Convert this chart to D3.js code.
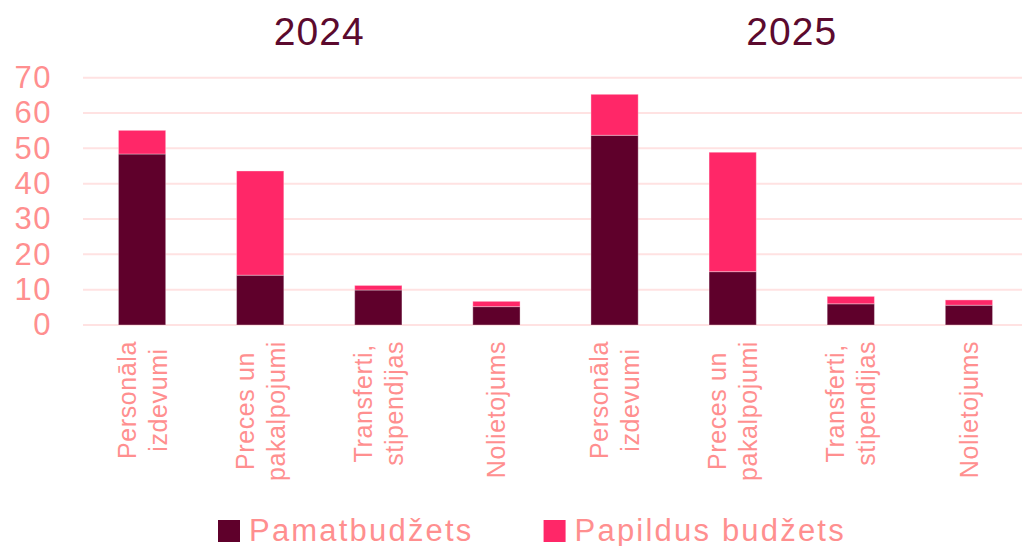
<!DOCTYPE html>
<html>
<head>
<meta charset="utf-8">
<script src="https://cdn.jsdelivr.net/npm/d3@7"></script>
<style>
  body { margin: 0; background: #fff; }
  svg { display: block; }
  text { font-family: "Liberation Sans", Arial, sans-serif; }
</style>
</head>
<body>
<svg id="chart" width="1022" height="546"></svg>
<script>
// data
var years = ["2024", "2025"];
var categories = [
  ["Personāla", "izdevumi"],
  ["Preces un", "pakalpojumi"],
  ["Transferti,", "stipendijas"],
  ["Nolietojums"]
];
var seriesNames = ["Pamatbudžets", "Papildus budžets"];
var pamat = [48.4, 14.1, 9.9, 5.2, 53.7, 15.1, 6.0, 5.6];
var papildus = [6.7, 29.5, 1.3, 1.5, 11.6, 33.8, 2.1, 1.5];
var yTicks = [0, 10, 20, 30, 40, 50, 60, 70];

var colors = ["#5f002b", "#ff2768"];
var textColor = "#ff8f8f";
var titleColor = "#5c0a2e";

var svg = d3.select("#chart");

// one key per bar : year + category index
var keys = [];
years.forEach(function(y){
  categories.forEach(function(c, i){ keys.push(y + "-" + i); });
});

var rows = keys.map(function(k, i){
  return { key: k, pamat: pamat[i], papildus: papildus[i] };
});

var x = d3.scaleBand().domain(keys).range([83, 1028]).paddingInner(0.6).paddingOuter(0.3);
var y = d3.scaleLinear().domain([0, 70]).range([325, 77.7]);

// grid lines
svg.append("g").selectAll("line")
  .data(yTicks)
  .join("line")
  .attr("x1", 83).attr("x2", 1022)
  .attr("y1", function(d){ return y(d); })
  .attr("y2", function(d){ return y(d); })
  .attr("stroke", "#ffe2e2")
  .attr("stroke-width", 2);

// y axis labels
var yAxis = d3.axisLeft(y).tickValues(yTicks).tickSize(0).tickPadding(31);
var ya = svg.append("g").attr("transform", "translate(83,0)").call(yAxis);
ya.select(".domain").remove();
ya.selectAll("text")
  .attr("fill", textColor)
  .style("font-size", "31px")
  .style("letter-spacing", "1.5px")
  .style("font-family", "'Liberation Sans', Arial, sans-serif");

// stacked bars
var stack = d3.stack().keys(["pamat", "papildus"]);
var layers = stack(rows);

svg.append("g").selectAll("g")
  .data(layers)
  .join("g")
  .attr("fill", function(d, i){ return colors[i]; })
  .selectAll("rect")
  .data(function(d){ return d; })
  .join("rect")
  .attr("x", function(d){ return x(d.data.key); })
  .attr("width", x.bandwidth())
  .attr("y", function(d){ return y(d[1]); })
  .attr("height", function(d){ return y(d[0]) - y(d[1]); })
  .attr("stroke", "rgba(255,255,255,0.35)")
  .attr("stroke-width", 1);

// category labels, rotated, lines centred in block starting at top
var labelTop = 341;
var lineGap = 31;
keys.forEach(function(k, i){
  var lines = categories[i % categories.length];
  var cx = x(k) + x.bandwidth() / 2;
  var g = svg.append("g").attr("transform", "translate(" + cx + "," + labelTop + ") rotate(-90)");
  var texts = lines.map(function(l, j){
    return g.append("text")
      .attr("text-anchor", "middle")
      .attr("y", (j - (lines.length - 1) / 2) * lineGap + 9)
      .attr("fill", textColor)
      .style("font-size", "25px")
      .style("letter-spacing", "0.6px")
      .text(l);
  });
  var maxW = d3.max(texts, function(t){ return t.node().getComputedTextLength(); });
  texts.forEach(function(t){ t.attr("x", -maxW / 2); });
});

// year titles
years.forEach(function(yr, i){
  var first = keys[i * categories.length];
  var last = keys[i * categories.length + categories.length - 1];
  var cx = (x(first) + x(last) + x.bandwidth()) / 2;
  svg.append("text")
    .attr("x", cx)
    .attr("y", 45)
    .attr("text-anchor", "middle")
    .attr("fill", titleColor)
    .style("font-size", "39px")
    .style("letter-spacing", "1px")
    .text(yr);
});

// legend
var lx = 218;
seriesNames.forEach(function(name, i){
  svg.append("rect")
    .attr("x", lx).attr("y", 520)
    .attr("width", 22).attr("height", 22)
    .attr("fill", colors[i]);
  var t = svg.append("text")
    .attr("x", lx + 31)
    .attr("y", 541)
    .attr("fill", textColor)
    .style("font-size", "31px")
    .style("letter-spacing", "2.2px")
    .text(name);
  lx = lx + 31 + t.node().getComputedTextLength() + 70;
});
</script>
</body>
</html>
